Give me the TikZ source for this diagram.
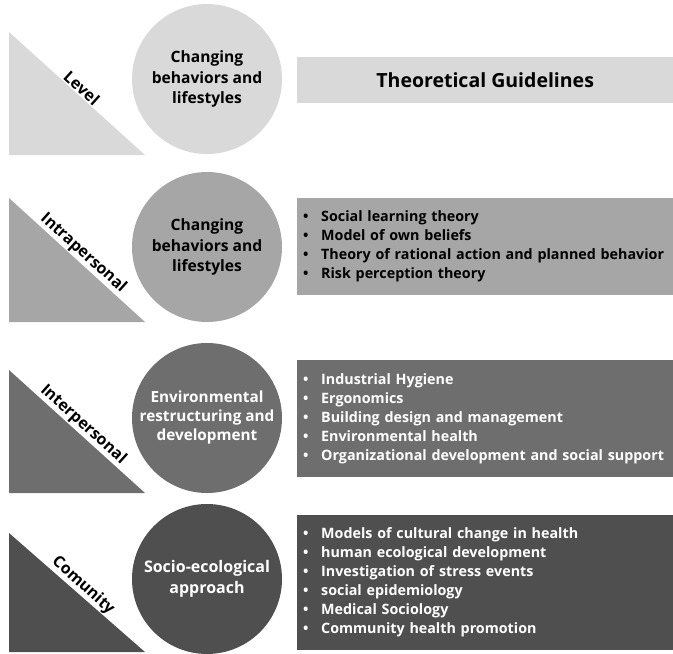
\documentclass[tikz,border=0pt]{standalone}
\usepackage{fontspec}
\setmainfont{Open Sans}
\usetikzlibrary{calc}
\definecolor{gA}{HTML}{D9D9D9}
\definecolor{gB}{HTML}{A6A6A6}
\definecolor{gC}{HTML}{6E6E6E}
\definecolor{gD}{HTML}{4F4F4F}
\newcommand{\bul}{\makebox[18pt][l]{\textbullet}}
\begin{document}
\begin{tikzpicture}[x=1pt,y=-1pt, line join=round,
	disc/.style={circle, minimum size=150pt, inner sep=0pt, align=center, font=\bfseries\fontsize{15.6}{20.5}\selectfont},
	lvl/.style={rotate=-42, anchor=south, inner sep=1pt, font=\bfseries\fontsize{16}{18}\selectfont},
	listbox/.style={anchor=north west, text width=364pt, inner xsep=6pt, inner ysep=0pt, align=left, font=\bfseries\fontsize{14.3}{19}\selectfont}]
	\useasboundingbox (0,0) rectangle (673,654);
	% level
	\fill[gA] (9,32) coordinate (t1a) -- (9,155) -- (145,155) coordinate (t1b) -- cycle;
	\node[lvl] (lvl1) at ($(t1a)!0.5!(t1b)$) {Level};
	\node[disc, fill=gA] (c1) at (207,79) {Changing\\behaviors and\\lifestyles};
	\node[fill=gA, anchor=north west, minimum width=376pt, minimum height=46pt, inner sep=0pt, font=\bfseries\fontsize{19.5}{22}\selectfont] (head) at (297,57) {Theoretical Guidelines};
	% intrapersonal
	\fill[gB] (9,198) coordinate (t2a) -- (9,322) -- (145,322) coordinate (t2b) -- cycle;
	\node[lvl] (lvl2) at ($(t2a)!0.5!(t2b)$) {Intrapersonal};
	\node[disc, fill=gB] (c2) at (207,247) {Changing\\behaviors and\\lifestyles};
	\node[listbox, fill=gB, minimum height=97pt] (g2) at (297,198) {%
		\bul Social learning theory\\
		\bul Model of own beliefs\\
		\bul Theory of rational action and planned behavior\\
		\bul Risk perception theory};
	% interpersonal
	\fill[gC] (9,370) coordinate (t3a) -- (9,493) -- (145,493) coordinate (t3b) -- cycle;
	\node[lvl] (lvl3) at ($(t3a)!0.5!(t3b)$) {Interpersonal};
	\node[disc, fill=gC, text=white, font=\bfseries\fontsize{15.3}{19}\selectfont] (c3) at (207,418) {Environmental\\restructuring and\\development};
	\node[listbox, fill=gC, text=white, minimum height=117pt] (g3) at (297,360) {%
		\bul Industrial Hygiene\\
		\bul Ergonomics\\
		\bul Building design and management\\
		\bul Environmental health\\
		\bul Organizational development and social support};
	% comunity
	\fill[gD] (9,533) coordinate (t4a) -- (9,652) -- (145,652) coordinate (t4b) -- cycle;
	\node[lvl] (lvl4) at ($(t4a)!0.5!(t4b)$) {Comunity};
	\node[disc, fill=gD, text=white, font=\bfseries\fontsize{16}{21}\selectfont] (c4) at (207,579) {Socio-ecological\\approach};
	\node[listbox, fill=gD, text=white, minimum height=135pt] (g4) at (297,515) {%
		\bul Models of cultural change in health\\
		\bul human ecological development\\
		\bul Investigation of stress events\\
		\bul social epidemiology\\
		\bul Medical Sociology\\
		\bul Community health promotion};
\end{tikzpicture}
\end{document}
